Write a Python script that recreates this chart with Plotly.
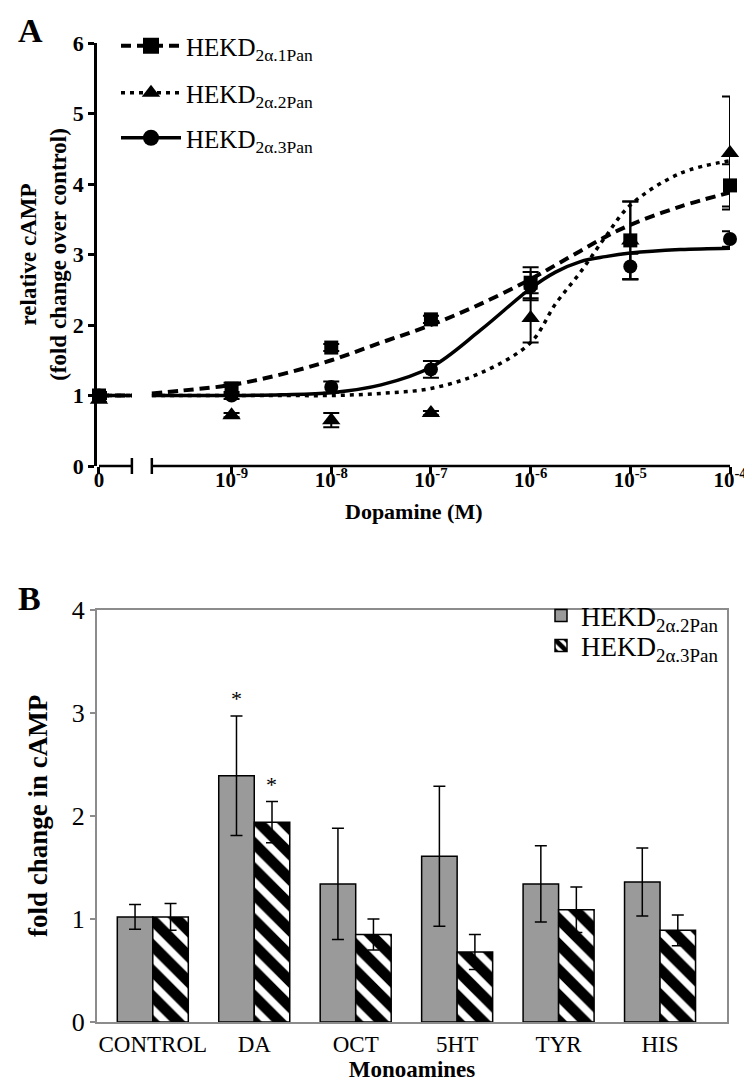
import numpy as np
import plotly.graph_objects as go

# ---------------- Panel A data ----------------
conc = [0, 1e-9, 1e-8, 1e-7, 1e-6, 1e-5, 1e-4]
pan1_mean = [1.00, 1.10, 1.68, 2.08, 2.60, 3.20, 3.98]
pan1_err = [0.05, 0.08, 0.05, 0.05, 0.22, 0.55, 0.30]
pan2_mean = [0.94, 0.72, 0.65, 0.75, 2.10, 3.20, 4.44]
pan2_err = [0.03, 0.03, 0.10, 0.03, 0.35, 0.55, 0.80]
pan3_mean = [1.00, 1.00, 1.12, 1.37, 2.55, 2.83, 3.22]
pan3_err = [0.03, 0.05, 0.08, 0.12, 0.20, 0.18, 0.11]

# fitted curves (log10 of concentration)
fit_log_conc = [-9.8, -9.5, -9, -8.5, -8, -7.5, -7, -6.5, -6, -5.75, -5.5, -5.25, -5, -4.5, -4]
pan1_fit = [1.03, 1.07, 1.15, 1.30, 1.50, 1.75, 2.00, 2.30, 2.65, 2.85, 3.05, 3.25, 3.42, 3.68, 3.88]
pan2_fit = [1.00, 1.00, 1.00, 1.00, 1.00, 1.03, 1.10, 1.32, 1.75, 2.30, 2.75, 3.25, 3.70, 4.15, 4.33]
pan3_fit = [1.00, 1.00, 1.00, 1.01, 1.04, 1.15, 1.40, 1.93, 2.52, 2.75, 2.90, 2.97, 3.02, 3.07, 3.09]
baseline_fit = [1.0, 1.0]  # the short segment before the axis break

x_tick_labels = ["0", "10<sup>-9</sup>", "10<sup>-8</sup>", "10<sup>-7</sup>",
                 "10<sup>-6</sup>", "10<sup>-5</sup>", "10<sup>-4</sup>"]
names_a = ["HEKD<sub>2α.1Pan</sub>", "HEKD<sub>2α.2Pan</sub>", "HEKD<sub>2α.3Pan</sub>"]
x_title_a = "Dopamine (M)"

# ---------------- Panel B data ----------------
monoamines = ["CONTROL", "DA", "OCT", "5HT", "TYR", "HIS"]
b_pan2_mean = [1.02, 2.39, 1.34, 1.61, 1.34, 1.36]
b_pan2_err = [0.12, 0.58, 0.54, 0.68, 0.37, 0.33]
b_pan3_mean = [1.02, 1.94, 0.85, 0.68, 1.09, 0.89]
b_pan3_err = [0.13, 0.20, 0.15, 0.17, 0.22, 0.15]
names_b = ["HEKD<sub>2α.2Pan</sub>", "HEKD<sub>2α.3Pan</sub>"]

# ---------------- layout constants ----------------
W, H = 752, 1086
SERIF = "Liberation Serif"
ZERO_POS = -10.33      # where the "0" concentration sits on the broken axis
BREAK_L, BREAK_R = -10.0, -9.8
pos = [ZERO_POS if c == 0 else float(np.log10(c)) for c in conc]


def px_x(p):
    return p / W


def px_y(p):
    return 1 - p / H


fig = go.Figure()

styles = [
    dict(dash="10px,6px", width=4, symbol="square", size=14),
    dict(dash="4px,5px", width=3.5, symbol="triangle-up", size=16),
    dict(dash="solid", width=3.5, symbol="circle", size=14),
]
means = [pan1_mean, pan2_mean, pan3_mean]
errs = [pan1_err, pan2_err, pan3_err]
fits = [pan1_fit, pan2_fit, pan3_fit]
draw_order = [1, 0, 2]
legend_ids_a = ["legend", "legend3", "legend4"]
legend_ids_b = ["legend2", "legend5"]

# fitted curves
for i in draw_order:
    st = styles[i]
    fig.add_trace(go.Scatter(
        x=fit_log_conc, y=fits[i], mode="lines", line_shape="spline",
        line=dict(color="black", width=st["width"], dash=st["dash"]),
        showlegend=False, hoverinfo="skip", xaxis="x", yaxis="y"))
    fig.add_trace(go.Scatter(
        x=[ZERO_POS, BREAK_L], y=baseline_fit, mode="lines",
        line=dict(color="black", width=st["width"], dash=st["dash"]),
        showlegend=False, hoverinfo="skip", cliponaxis=False, xaxis="x", yaxis="y"))

# data points
for i in draw_order:
    st = styles[i]
    fig.add_trace(go.Scatter(
        x=pos, y=means[i], mode="markers", cliponaxis=False,
        marker=dict(symbol=st["symbol"], size=st["size"], color="black"),
        error_y=dict(type="data", array=errs[i], color="black", thickness=2, width=8),
        showlegend=False, xaxis="x", yaxis="y"))

# legend entries (no data)
for i in range(3):
    st = styles[i]
    fig.add_trace(go.Scatter(
        x=[None], y=[None], mode="lines+markers", name=names_a[i],
        line=dict(color="black", width=st["width"], dash=st["dash"]),
        marker=dict(symbol=st["symbol"], size=st["size"] + 2, color="black"),
        legend=legend_ids_a[i], xaxis="x", yaxis="y"))

# ---------------- Panel B bars ----------------
fig.add_trace(go.Bar(
    x=monoamines, y=b_pan2_mean, name=names_b[0],
    marker=dict(color="#9a9a9a", line=dict(color="black", width=1.5)),
    error_y=dict(type="data", array=b_pan2_err, color="black", thickness=1.5, width=6),
    xaxis="x2", yaxis="y2", legend=legend_ids_b[0], offsetgroup="g1"))
fig.add_trace(go.Bar(
    x=monoamines, y=b_pan3_mean, name=names_b[1],
    marker=dict(color="white", line=dict(color="black", width=1.5),
                pattern=dict(shape="\\", fgcolor="black", bgcolor="white",
                             fillmode="overlay", fgopacity=1,
                             size=18, solidity=0.6)),
    error_y=dict(type="data", array=b_pan3_err, color="black", thickness=1.5, width=6),
    xaxis="x2", yaxis="y2", legend=legend_ids_b[1], offsetgroup="g2"))

# asterisks above DA bars
ann = []
for mean, err, shift in [(b_pan2_mean, b_pan2_err, -17.7), (b_pan3_mean, b_pan3_err, 17.7)]:
    k = monoamines.index("DA")
    ann.append(dict(x="DA", y=mean[k] + err[k], xref="x2", yref="y2", text="*",
                    showarrow=False, xshift=shift, yshift=3, yanchor="bottom",
                    font=dict(family=SERIF, size=22, color="black")))

ann.append(dict(x=px_x(8), y=px_y(2), xref="paper", yref="paper", text="<b>A</b>",
                showarrow=False, xanchor="left", yanchor="top",
                font=dict(family=SERIF, size=34, color="black")))
ann.append(dict(x=px_x(8), y=px_y(570), xref="paper", yref="paper", text="<b>B</b>",
                showarrow=False, xanchor="left", yanchor="top",
                font=dict(family=SERIF, size=34, color="black")))
# x-axis title of panel A (placed tight under the tick labels, as in the original)
ann.append(dict(x=px_x(405), y=px_y(489), xref="paper", yref="paper",
                text=f"<b>{x_title_a}</b>", showarrow=False,
                xanchor="center", yanchor="top",
                font=dict(family=SERIF, size=22, color="black")))

# broken x axis of panel A
shapes = []
y_axis_paper = px_y(458)
for x0, x1 in [(ZERO_POS, BREAK_L), (BREAK_R, -4.0)]:
    shapes.append(dict(type="line", xref="x", yref="paper", x0=x0, x1=x1,
                       y0=y_axis_paper, y1=y_axis_paper,
                       line=dict(color="black", width=2.5)))
for xb in [BREAK_L, BREAK_R]:
    shapes.append(dict(type="line", xref="x", yref="paper", x0=xb, x1=xb,
                       y0=px_y(466), y1=px_y(450),
                       line=dict(color="black", width=2.5)))

tick_ay = dict(family=SERIF, size=22, color="black", weight="bold")
tick_ax = dict(family=SERIF, size=21, color="black", weight="bold")

layout = dict(
    width=W, height=H, margin=dict(l=0, r=0, t=0, b=0),
    paper_bgcolor="white", plot_bgcolor="white",
    barmode="group", bargap=0.30, bargroupgap=0.0,
    font=dict(family=SERIF, color="black"),
    xaxis=dict(domain=[px_x(89), px_x(722)], range=[-10.35, -4.0],
               tickvals=pos, ticktext=x_tick_labels, tickfont=tick_ax,
               ticks="outside", ticklen=7, tickwidth=2.5, tickcolor="black",
               ticklabelstandoff=-12,
               showline=False, showgrid=False, zeroline=False, automargin=False,
               anchor="y"),
    yaxis=dict(domain=[px_y(458), px_y(35)], range=[0, 6], dtick=1,
               tickfont=tick_ay, ticks="outside", ticklen=6, tickwidth=2.5,
               tickcolor="black", showline=True, linewidth=2.5, linecolor="black",
               showgrid=False, zeroline=False, automargin=False,
               title=dict(text="<b>relative cAMP<br>(fold change over control)</b>",
                          font=dict(family=SERIF, size=23), standoff=0),
               anchor="x"),
    xaxis2=dict(domain=[px_x(89), px_x(719)], range=[-0.55, 5.66], type="category",
                tickfont=dict(family=SERIF, size=23, color="black"),
                ticks="", showline=True, mirror=True, linewidth=2, linecolor="#8c8c8c",
                showgrid=False, zeroline=False, automargin=False,
                title=dict(text="<b>Monoamines</b>", font=dict(family=SERIF, size=23),
                           standoff=0),
                anchor="y2"),
    yaxis2=dict(domain=[px_y(1014), px_y(602)], range=[0, 4], dtick=1,
                tickfont=dict(family=SERIF, size=26, color="black"),
                ticks="outside", ticklen=5, tickwidth=1.5, tickcolor="#8c8c8c",
                showline=True, mirror=True, linewidth=2, linecolor="#8c8c8c",
                showgrid=False, zeroline=False, automargin=False,
                title=dict(text="<b>fold change in cAMP</b>", font=dict(family=SERIF, size=27),
                           standoff=16),
                anchor="x2"),
    annotations=ann, shapes=shapes,
)

leg_a_y = [38, 85, 130]
for lid, yc in zip(legend_ids_a, leg_a_y):
    layout[lid] = dict(x=px_x(108), y=px_y(yc), xanchor="left", yanchor="middle",
                       font=dict(family=SERIF, size=25, color="black"),
                       bgcolor="rgba(0,0,0,0)", itemwidth=60)
leg_b_y = [608, 638]
for lid, yc in zip(legend_ids_b, leg_b_y):
    layout[lid] = dict(x=px_x(533), y=px_y(yc), xanchor="left", yanchor="middle",
                       font=dict(family=SERIF, size=27, color="black"),
                       bgcolor="rgba(0,0,0,0)")

fig.update_layout(**layout)
fig.write_html("out.html")
